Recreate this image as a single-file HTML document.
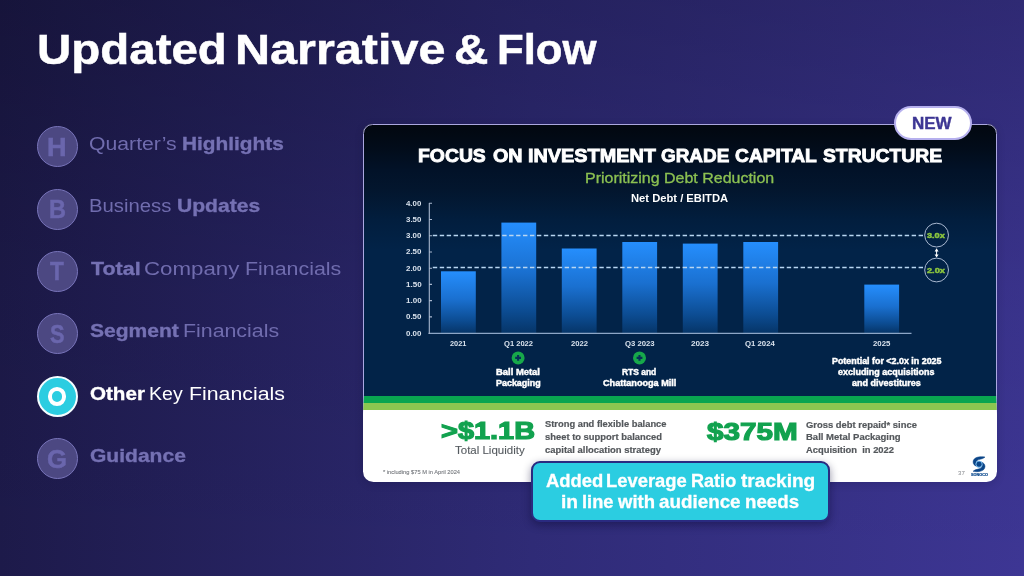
<!DOCTYPE html>
<html lang="en">
<head>
<meta charset="utf-8">
<title>Updated Narrative &amp; Flow</title>
<style>
*{margin:0;padding:0;box-sizing:border-box}
html,body{width:1024px;height:576px;overflow:hidden}
body{position:relative;font-family:"Liberation Sans",sans-serif;
 background:
  linear-gradient(180deg,rgba(0,0,8,.23) 0%,rgba(0,0,8,.07) 50%,rgba(0,0,8,0) 100%),
  linear-gradient(90deg,#1d1a4a 0%,#2f2b77 52%,#3d3694 100%);
}
.t{position:absolute;white-space:pre;line-height:1;transform-origin:0 0;display:block}
.circ{position:absolute;left:36.7px;width:41px;height:41px;border-radius:50%;background:#4c4882;border:1.4px solid #7874ba}
.circ.on{background:#2bcde1;border:2px solid #f4fdff}
.ring{position:absolute;left:47.7px;top:387.2px;width:18.8px;height:18.6px;border-radius:50%;border:4.8px solid #fff}
#card{position:absolute;left:363px;top:124px;width:634px;height:357.5px;border-radius:9.5px 9.5px 10.5px 10.5px;overflow:hidden;background:#fff;
 box-shadow:0 2px 9px rgba(8,6,40,.16)}
#dark{position:absolute;left:0;top:0;width:100%;height:272px;
 background:linear-gradient(180deg,#02070f 0%,#020c1a 8.8%,#021228 17%,#03162e 24.3%,#021e3e 35.3%,#022348 46.3%,#022348 100%)}
#g1{position:absolute;left:0;top:272px;width:100%;height:6.8px;background:#09a550}
#g2{position:absolute;left:0;top:278.6px;width:100%;height:7.6px;background:#8cc650}
#cardb{position:absolute;left:363px;top:124px;width:634px;height:357.5px;border-radius:9.5px;border:1.3px solid rgba(180,176,234,.95);
 -webkit-mask-image:linear-gradient(180deg,#000 0,#000 270px,transparent 290px);mask-image:linear-gradient(180deg,#000 0,#000 270px,transparent 290px)}
#new{position:absolute;left:893.5px;top:105.8px;width:78.6px;height:34.4px;border-radius:17.2px;background:#fff;border:2px solid #b6b0ee}
#call{position:absolute;left:530.6px;top:460.6px;width:299px;height:61px;border-radius:9px;background:#2bcde1;border:2px solid #2a2a80;
 box-shadow:0 3px 8px rgba(10,8,50,.45)}
svg{position:absolute;left:0;top:0}
</style>
</head>
<body>
<div class="circ" style="top:126px"></div>
<div class="circ" style="top:188.7px"></div>
<div class="circ" style="top:250.9px"></div>
<div class="circ" style="top:313.3px"></div>
<div class="circ on" style="top:375.8px"></div>
<div class="circ" style="top:438px"></div>
<div class="ring"></div>

<div id="card"><div id="dark"></div><div id="g1"></div><div id="g2"></div></div>
<div id="cardb"></div>

<svg width="1024" height="576" viewBox="0 0 1024 576">
 <defs>
  <linearGradient id="bar" x1="0" y1="0" x2="0" y2="1">
   <stop offset="0" stop-color="#258efd"/>
   <stop offset="0.45" stop-color="#1a70d0"/>
   <stop offset="0.8" stop-color="#0c4c92"/>
   <stop offset="1" stop-color="#063568"/>
  </linearGradient>
 </defs>
 <!-- bars -->
 <g fill="url(#bar)">
  <rect x="441" y="271.3" width="34.8" height="61.7"/>
  <rect x="501.4" y="222.6" width="34.8" height="110.4"/>
  <rect x="561.8" y="248.5" width="34.8" height="84.5"/>
  <rect x="622.3" y="242" width="34.8" height="91"/>
  <rect x="682.8" y="243.6" width="34.8" height="89.4"/>
  <rect x="743.3" y="242" width="34.8" height="91"/>
  <rect x="864.3" y="284.6" width="34.8" height="48.4"/>
 </g>
 <!-- axes -->
 <path d="M428.5 333.4H911.5" stroke="#8da6c6" stroke-width="1.15" fill="none"/>
 <g stroke="#a9b8ce" stroke-width="1.1" fill="none">
  <path d="M429.3 203V333.9"/>
  <path d="M429 203.3h3M429 219.5h3M429 235.7h3M429 252h3M429 268.2h3M429 284.4h3M429 300.6h3M429 316.9h3"/>
 </g>
 <!-- dashed -->
 <g stroke="#b9d6f1" stroke-width="1.45" stroke-dasharray="4.4 2.54" fill="none">
  <path d="M432.8 235.5H923.5"/>
  <path d="M432.8 267.4H923.5"/>
 </g>
 <!-- circles -->
 <g stroke="#a9b8d0" stroke-width="1" fill="none">
  <circle cx="936.6" cy="235.1" r="11.9"/>
  <circle cx="936.6" cy="270" r="11.9"/>
 </g>
 <path d="M936.6 248.2L938.6 251.4H937.1V254.6H938.6L936.6 257.4L934.6 254.6H936.1V251.4H934.6Z" fill="#fff"/>
 <!-- plus icons -->
 <g>
  <circle cx="518.1" cy="357.9" r="6.5" fill="#17a84a"/>
  <path d="M518.1 355V360.8M515.2 357.9H521" stroke="#072f58" stroke-width="2.1"/>
  <circle cx="639.5" cy="357.9" r="6.5" fill="#17a84a"/>
  <path d="M639.5 355V360.8M636.6 357.9H642.4" stroke="#072f58" stroke-width="2.1"/>
 </g>
 <!-- logo -->
 <g transform="translate(973 456.9)">
  <path d="M12 0.2C8.5 -0.7 0.2 -0.4 0.1 5C0.1 7.4 1.6 8.6 3.4 9.3C2.4 7.6 2.2 5 4.2 3.5C6.4 1.9 9.6 2.6 12 0.2Z" fill="#0b4588" stroke="#0b4588" stroke-width="0.5"/>
  <path d="M12 0.2C8.5 -0.7 0.2 -0.4 0.1 5C0.1 7.4 1.6 8.6 3.4 9.3C2.4 7.6 2.2 5 4.2 3.5C6.4 1.9 9.6 2.6 12 0.2Z" fill="#0b4588" stroke="#0b4588" stroke-width="0.5" transform="rotate(180 6.05 7.3)"/>
  <circle cx="6.05" cy="7.3" r="3.1" fill="#0b4588" stroke="#74bcf2" stroke-width="0.9"/>
 </g>
</svg>

<div id="new"></div>
<div id="call"></div>

<span class="t" style="left:37.23px;top:25px;font-size:43.2px;line-height:48px;color:#fff;transform:scaleX(1.0989);font-weight:700;-webkit-text-stroke:0.5px #fff;">Updated</span>
<span class="t" style="left:235.43px;top:25px;font-size:43.2px;line-height:48px;color:#fff;transform:scaleX(1.1235);font-weight:700;-webkit-text-stroke:0.5px #fff;">Narrative</span>
<span class="t" style="left:454.33px;top:25px;font-size:43.2px;line-height:48px;color:#fff;transform:scaleX(1.1035);font-weight:700;-webkit-text-stroke:0.5px #fff;">&amp;</span>
<span class="t" style="left:497.21px;top:25px;font-size:43.2px;line-height:48px;color:#fff;transform:scaleX(1.0126);font-weight:700;-webkit-text-stroke:0.5px #fff;">Flow</span>
<span class="t" style="left:89.45px;top:133px;font-size:18.9px;line-height:21px;color:#706cae;transform:scaleX(1.1222);">Quarter’s</span>
<span class="t" style="left:181.94px;top:133px;font-size:18.9px;line-height:21px;color:#7571b3;transform:scaleX(1.1026);font-weight:700;-webkit-text-stroke:0.35px #7571b3;">Highlights</span>
<span class="t" style="left:89.08px;top:195px;font-size:18.9px;line-height:21px;color:#706cae;transform:scaleX(1.0743);">Business</span>
<span class="t" style="left:176.83px;top:195px;font-size:18.9px;line-height:21px;color:#7571b3;transform:scaleX(1.1161);font-weight:700;-webkit-text-stroke:0.35px #7571b3;">Updates</span>
<span class="t" style="left:90.73px;top:258px;font-size:18.9px;line-height:21px;color:#7571b3;transform:scaleX(1.1352);font-weight:700;-webkit-text-stroke:0.35px #7571b3;">Total</span>
<span class="t" style="left:143.63px;top:258px;font-size:18.9px;line-height:21px;color:#706cae;transform:scaleX(1.1802);">Company</span>
<span class="t" style="left:244.89px;top:258px;font-size:18.9px;line-height:21px;color:#706cae;transform:scaleX(1.1318);">Financials</span>
<span class="t" style="left:89.96px;top:320px;font-size:18.9px;line-height:21px;color:#7571b3;transform:scaleX(1.1140);font-weight:700;-webkit-text-stroke:0.35px #7571b3;">Segment</span>
<span class="t" style="left:183.09px;top:320px;font-size:18.9px;line-height:21px;color:#706cae;transform:scaleX(1.1294);">Financials</span>
<span class="t" style="left:90.12px;top:383px;font-size:18.9px;line-height:21px;color:#fff;transform:scaleX(1.0899);font-weight:700;-webkit-text-stroke:0.35px #fff;">Other</span>
<span class="t" style="left:149.19px;top:383px;font-size:18.9px;line-height:21px;color:#fff;transform:scaleX(1.0341);">Key</span>
<span class="t" style="left:188.90px;top:383px;font-size:18.9px;line-height:21px;color:#fff;transform:scaleX(1.1270);">Financials</span>
<span class="t" style="left:90.10px;top:445px;font-size:18.9px;line-height:21px;color:#7571b3;transform:scaleX(1.1132);font-weight:700;-webkit-text-stroke:0.35px #7571b3;">Guidance</span>
<span class="t" style="left:47.40px;top:132px;font-size:26px;line-height:30px;color:#6a66ad;transform:scaleX(1.0417);font-weight:700;-webkit-text-stroke:0.5px #6a66ad;">H</span>
<span class="t" style="left:48.50px;top:194px;font-size:26px;line-height:30px;color:#6a66ad;transform:scaleX(0.9046);font-weight:700;-webkit-text-stroke:0.5px #6a66ad;">B</span>
<span class="t" style="left:50.19px;top:256px;font-size:26px;line-height:30px;color:#6a66ad;transform:scaleX(0.8712);font-weight:700;-webkit-text-stroke:0.5px #6a66ad;">T</span>
<span class="t" style="left:49.76px;top:319px;font-size:26px;line-height:30px;color:#6a66ad;transform:scaleX(0.8385);font-weight:700;-webkit-text-stroke:0.5px #6a66ad;">S</span>
<span class="t" style="left:47.32px;top:444px;font-size:26px;line-height:30px;color:#6a66ad;transform:scaleX(0.9861);font-weight:700;-webkit-text-stroke:0.5px #6a66ad;">G</span>
<span class="t" style="left:912.10px;top:114px;font-size:16.7px;line-height:19px;color:#3d3694;transform:scaleX(1.0180);font-weight:700;-webkit-text-stroke:0.4px #3d3694;">NEW</span>
<span class="t" style="left:545.69px;top:471px;font-size:18.2px;line-height:20px;color:#fff;transform:scaleX(1.0133);font-weight:700;-webkit-text-stroke:0.3px #fff;">Added</span>
<span class="t" style="left:606.36px;top:471px;font-size:18.2px;line-height:20px;color:#fff;transform:scaleX(1.0105);font-weight:700;-webkit-text-stroke:0.3px #fff;">Leverage</span>
<span class="t" style="left:691.47px;top:471px;font-size:18.2px;line-height:20px;color:#fff;transform:scaleX(0.9934);font-weight:700;-webkit-text-stroke:0.3px #fff;">Ratio</span>
<span class="t" style="left:740.97px;top:471px;font-size:18.2px;line-height:20px;color:#fff;transform:scaleX(1.0497);font-weight:700;-webkit-text-stroke:0.3px #fff;">tracking</span>
<span class="t" style="left:560.81px;top:492px;font-size:18.2px;line-height:20px;color:#fff;transform:scaleX(1.0543);font-weight:700;-webkit-text-stroke:0.3px #fff;">in</span>
<span class="t" style="left:581.87px;top:492px;font-size:18.2px;line-height:20px;color:#fff;transform:scaleX(1.0019);font-weight:700;-webkit-text-stroke:0.3px #fff;">line</span>
<span class="t" style="left:618.35px;top:492px;font-size:18.2px;line-height:20px;color:#fff;transform:scaleX(1.0168);font-weight:700;-webkit-text-stroke:0.3px #fff;">with</span>
<span class="t" style="left:659.39px;top:492px;font-size:18.2px;line-height:20px;color:#fff;transform:scaleX(1.0344);font-weight:700;-webkit-text-stroke:0.3px #fff;">audience</span>
<span class="t" style="left:745.14px;top:492px;font-size:18.2px;line-height:20px;color:#fff;transform:scaleX(1.0277);font-weight:700;-webkit-text-stroke:0.3px #fff;">needs</span>
<span class="t" style="left:418.00px;top:145px;font-size:18.9px;line-height:21px;color:#fff;transform:scaleX(1.0252);font-weight:700;-webkit-text-stroke:0.9px #fff;">FOCUS</span>
<span class="t" style="left:492.58px;top:145px;font-size:18.9px;line-height:21px;color:#fff;transform:scaleX(1.0416);font-weight:700;-webkit-text-stroke:0.9px #fff;">ON</span>
<span class="t" style="left:527.78px;top:145px;font-size:18.9px;line-height:21px;color:#fff;transform:scaleX(1.0512);font-weight:700;-webkit-text-stroke:0.9px #fff;">INVESTMENT</span>
<span class="t" style="left:661.19px;top:145px;font-size:18.9px;line-height:21px;color:#fff;transform:scaleX(1.0013);font-weight:700;-webkit-text-stroke:0.9px #fff;">GRADE</span>
<span class="t" style="left:735.29px;top:145px;font-size:18.9px;line-height:21px;color:#fff;transform:scaleX(1.0176);font-weight:700;-webkit-text-stroke:0.9px #fff;">CAPITAL</span>
<span class="t" style="left:822.88px;top:145px;font-size:18.9px;line-height:21px;color:#fff;transform:scaleX(1.0216);font-weight:700;-webkit-text-stroke:0.9px #fff;">STRUCTURE</span>
<span class="t" style="left:585.39px;top:170px;font-size:14.5px;line-height:16px;color:#8cc152;transform:scaleX(1.1020);-webkit-text-stroke:0.3px #8cc152;">Prioritizing Debt Reduction</span>
<span class="t" style="left:631.47px;top:192px;font-size:10.9px;line-height:12px;color:#fff;transform:scaleX(1.0282);font-weight:700;">Net Debt / EBITDA</span>
<span class="t" style="left:405.88px;top:200px;font-size:6.8px;line-height:7px;color:#d8e1ec;transform:scaleX(1.1516);font-weight:700;">4.00</span>
<span class="t" style="left:405.80px;top:216px;font-size:6.8px;line-height:7px;color:#d8e1ec;transform:scaleX(1.1577);font-weight:700;">3.50</span>
<span class="t" style="left:405.80px;top:232px;font-size:6.8px;line-height:7px;color:#d8e1ec;transform:scaleX(1.1577);font-weight:700;">3.00</span>
<span class="t" style="left:405.72px;top:248px;font-size:6.8px;line-height:7px;color:#d8e1ec;transform:scaleX(1.1639);font-weight:700;">2.50</span>
<span class="t" style="left:405.72px;top:265px;font-size:6.8px;line-height:7px;color:#d8e1ec;transform:scaleX(1.1639);font-weight:700;">2.00</span>
<span class="t" style="left:405.52px;top:281px;font-size:6.8px;line-height:7px;color:#d8e1ec;transform:scaleX(1.1797);font-weight:700;">1.50</span>
<span class="t" style="left:405.52px;top:297px;font-size:6.8px;line-height:7px;color:#d8e1ec;transform:scaleX(1.1797);font-weight:700;">1.00</span>
<span class="t" style="left:405.68px;top:313px;font-size:6.8px;line-height:7px;color:#d8e1ec;transform:scaleX(1.1670);font-weight:700;">0.50</span>
<span class="t" style="left:405.68px;top:330px;font-size:6.8px;line-height:7px;color:#d8e1ec;transform:scaleX(1.1670);font-weight:700;">0.00</span>
<span class="t" style="left:450.04px;top:339px;font-size:7.3px;line-height:9px;color:#d8e1ec;transform:scaleX(1.0124);font-weight:700;">2021</span>
<span class="t" style="left:504.10px;top:339px;font-size:7.3px;line-height:9px;color:#d8e1ec;transform:scaleX(1.0361);font-weight:700;">Q1 2022</span>
<span class="t" style="left:570.63px;top:339px;font-size:7.3px;line-height:9px;color:#d8e1ec;transform:scaleX(1.0513);font-weight:700;">2022</span>
<span class="t" style="left:624.69px;top:339px;font-size:7.3px;line-height:9px;color:#d8e1ec;transform:scaleX(1.0565);font-weight:700;">Q3 2023</span>
<span class="t" style="left:691.21px;top:339px;font-size:7.3px;line-height:9px;color:#d8e1ec;transform:scaleX(1.1188);font-weight:700;">2023</span>
<span class="t" style="left:745.39px;top:339px;font-size:7.3px;line-height:9px;color:#d8e1ec;transform:scaleX(1.0663);font-weight:700;">Q1 2024</span>
<span class="t" style="left:872.83px;top:339px;font-size:7.3px;line-height:9px;color:#d8e1ec;transform:scaleX(1.0693);font-weight:700;">2025</span>
<span class="t" style="left:927.26px;top:231px;font-size:7.8px;line-height:9px;color:#8cc63f;transform:scaleX(1.1725);font-weight:700;-webkit-text-stroke:0.5px #8cc63f;">3.0x</span>
<span class="t" style="left:927.17px;top:266px;font-size:7.8px;line-height:9px;color:#8cc63f;transform:scaleX(1.1785);font-weight:700;-webkit-text-stroke:0.5px #8cc63f;">2.0x</span>
<span class="t" style="left:496.12px;top:367px;font-size:9.0px;line-height:10px;color:#fff;transform:scaleX(1.0469);font-weight:700;-webkit-text-stroke:0.45px #fff;">Ball Metal</span>
<span class="t" style="left:496.14px;top:378px;font-size:9.0px;line-height:10px;color:#fff;transform:scaleX(0.9914);font-weight:700;-webkit-text-stroke:0.45px #fff;">Packaging</span>
<span class="t" style="left:622.16px;top:367px;font-size:9.0px;line-height:10px;color:#fff;transform:scaleX(0.9364);font-weight:700;-webkit-text-stroke:0.45px #fff;">RTS and</span>
<span class="t" style="left:603.26px;top:378px;font-size:9.0px;line-height:10px;color:#fff;transform:scaleX(1.0125);font-weight:700;-webkit-text-stroke:0.45px #fff;">Chattanooga Mill</span>
<span class="t" style="left:831.65px;top:356px;font-size:8.8px;line-height:10px;color:#fff;transform:scaleX(1.0112);font-weight:700;-webkit-text-stroke:0.45px #fff;">Potential for &lt;2.0x in 2025</span>
<span class="t" style="left:838.17px;top:367px;font-size:8.8px;line-height:10px;color:#fff;transform:scaleX(1.0179);font-weight:700;-webkit-text-stroke:0.45px #fff;">excluding acquisitions</span>
<span class="t" style="left:851.86px;top:378px;font-size:8.8px;line-height:10px;color:#fff;transform:scaleX(1.0203);font-weight:700;-webkit-text-stroke:0.45px #fff;">and divestitures</span>
<span class="t" style="left:441.45px;top:417px;font-size:24.6px;line-height:27px;color:#12a24f;transform:scaleX(1.1751);font-weight:700;-webkit-text-stroke:1.2px #12a24f;">&gt;$1.1B</span>
<span class="t" style="left:455.02px;top:444px;font-size:11.2px;line-height:12px;color:#555a5f;transform:scaleX(1.0273);-webkit-text-stroke:0.1px #555a5f;">Total Liquidity</span>
<span class="t" style="left:544.62px;top:419px;font-size:9.3px;line-height:10px;color:#54585c;transform:scaleX(1.0050);font-weight:700;-webkit-text-stroke:0.2px #54585c;">Strong and flexible balance</span>
<span class="t" style="left:544.57px;top:432px;font-size:9.3px;line-height:10px;color:#54585c;transform:scaleX(1.0104);font-weight:700;-webkit-text-stroke:0.2px #54585c;">sheet to support balanced</span>
<span class="t" style="left:544.52px;top:445px;font-size:9.3px;line-height:10px;color:#54585c;transform:scaleX(1.0150);font-weight:700;-webkit-text-stroke:0.2px #54585c;">capital allocation strategy</span>
<span class="t" style="left:707.28px;top:418px;font-size:24.6px;line-height:27px;color:#12a24f;transform:scaleX(1.2059);font-weight:700;-webkit-text-stroke:1.2px #12a24f;">$375M</span>
<span class="t" style="left:806.12px;top:420px;font-size:9.3px;line-height:10px;color:#54585c;transform:scaleX(1.0123);font-weight:700;-webkit-text-stroke:0.2px #54585c;">Gross debt repaid* since</span>
<span class="t" style="left:805.88px;top:432px;font-size:9.3px;line-height:10px;color:#54585c;transform:scaleX(1.0232);font-weight:700;-webkit-text-stroke:0.2px #54585c;">Ball Metal Packaging</span>
<span class="t" style="left:806.27px;top:445px;font-size:9.3px;line-height:10px;color:#54585c;transform:scaleX(1.0078);font-weight:700;-webkit-text-stroke:0.2px #54585c;">Acquisition  in 2022</span>
<span class="t" style="left:382.77px;top:469px;font-size:5.4px;line-height:6px;color:#76797e;transform:scaleX(1.0623);-webkit-text-stroke:0.1px #76797e;">* including $75 M in April 2024</span>
<span class="t" style="left:958.36px;top:470px;font-size:5.8px;line-height:6px;color:#85888d;transform:scaleX(1.0480);">37</span>
<span class="t" style="left:971.20px;top:473px;font-size:3.3px;line-height:4px;color:#0c4a8e;transform:scaleX(1.1490);font-weight:700;-webkit-text-stroke:0.2px #0c4a8e;">SONOCO</span>
</body>
</html>
